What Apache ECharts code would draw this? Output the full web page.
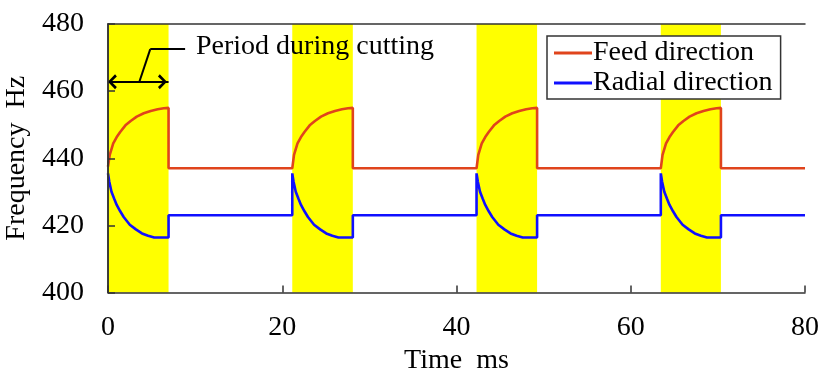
<!DOCTYPE html>
<html>
<head>
<meta charset="utf-8">
<script src="https://cdn.jsdelivr.net/npm/echarts@6/dist/echarts.min.js"></script>
<style>
  html, body { margin: 0; padding: 0; background: #fff; }
  #chart { width: 820px; height: 374px; }
</style>
</head>
<body>
<div id="chart"></div>
<script>
// cutting periods (ms), yellow bands
const bands = [[0, 6.95], [21.15, 28.1], [42.3, 49.25], [63.45, 70.35]];

// Feed direction (ms, Hz)
const feedData = [
  [0, 437.5], [0.2, 441], [0.6, 444.4], [1.0, 446.3], [1.4, 447.8], [2.0, 449.8], [2.6, 451.1],
  [3.3, 452.4], [4.1, 453.4], [4.9, 454.1], [5.7, 454.6], [6.4, 454.9], [6.95, 455], [6.95, 437],
  [21.15, 437], [21.15, 437.5], [21.35, 441], [21.75, 444.4], [22.15, 446.3], [22.55, 447.8],
  [23.15, 449.8], [23.75, 451.1], [24.45, 452.4], [25.25, 453.4], [26.05, 454.1], [26.85, 454.6],
  [27.55, 454.9], [28.1, 455], [28.1, 437],
  [42.3, 437], [42.3, 437.5], [42.5, 441], [42.9, 444.4], [43.3, 446.3], [43.7, 447.8],
  [44.3, 449.8], [44.9, 451.1], [45.6, 452.4], [46.4, 453.4], [47.2, 454.1], [48.0, 454.6],
  [48.7, 454.9], [49.25, 455], [49.25, 437],
  [63.45, 437], [63.45, 437.5], [63.65, 441], [64.05, 444.4], [64.45, 446.3], [64.85, 447.8],
  [65.45, 449.8], [66.05, 451.1], [66.75, 452.4], [67.55, 453.4], [68.35, 454.1], [69.15, 454.6],
  [69.85, 454.9], [70.35, 455], [70.35, 437],
  [80, 437]
];

// Radial direction (ms, Hz)
const radialData = [
  [0, 435.5], [0.15, 433], [0.4, 430], [0.7, 428], [1.0, 426.1], [1.4, 424.2], [1.8, 422.5],
  [2.5, 420.2], [3.2, 418.8], [3.9, 417.6], [4.6, 416.9], [5.3, 416.4], [6.95, 416.4], [6.95, 423],
  [21.15, 423], [21.15, 435.5], [21.3, 433], [21.55, 430], [21.85, 428], [22.15, 426.1],
  [22.55, 424.2], [22.95, 422.5], [23.65, 420.2], [24.35, 418.8], [25.05, 417.6], [25.75, 416.9],
  [26.45, 416.4], [28.1, 416.4], [28.1, 423],
  [42.3, 423], [42.3, 435.5], [42.45, 433], [42.7, 430], [43.0, 428], [43.3, 426.1],
  [43.7, 424.2], [44.1, 422.5], [44.8, 420.2], [45.5, 418.8], [46.2, 417.6], [46.9, 416.9],
  [47.6, 416.4], [49.25, 416.4], [49.25, 423],
  [63.45, 423], [63.45, 435.5], [63.6, 433], [63.85, 430], [64.15, 428], [64.45, 426.1],
  [64.85, 424.2], [65.25, 422.5], [65.95, 420.2], [66.65, 418.8], [67.35, 417.6], [68.05, 416.9],
  [68.75, 416.4], [70.35, 416.4], [70.35, 423],
  [80, 423]
];

// annotation: double arrow over first period and leader to the label
const arrowY = 462.8;
const leader = [[3.6, 462.8], [4.85, 472.5], [8.85, 472.5]];

const font = 'Liberation Serif';
const fs = 28;
const chevron = 'path://M5,0 L10,8 L8.5,10 L5,4 L1.5,10 L0,8 Z';

let myChart = echarts.init(document.getElementById('chart'));
myChart.setOption({
  animation: false,
  textStyle: { fontFamily: font, color: '#000' },
  title: {
    text: 'Period during cutting',
    left: 196,
    top: 33,
    padding: 0,
    textStyle: { fontFamily: font, fontSize: fs, fontWeight: 'normal', color: '#000' }
  },
  legend: {
    data: ['Feed direction', 'Radial direction'],
    orient: 'vertical',
    left: 547,
    top: 36,
    padding: [3, 8, 2, 7],
    itemGap: 2,
    itemWidth: 38,
    itemHeight: 3,
    icon: 'rect',
    borderColor: '#333',
    borderWidth: 1.5,
    backgroundColor: '#fff',
    textStyle: { fontFamily: font, fontSize: fs, lineHeight: 28, color: '#000', padding: [0, 0, 0, -4] }
  },
  grid: { left: 108, right: 15, top: 24, bottom: 81.5, outerBoundsMode: 'none' },
  xAxis: [{
    type: 'value',
    min: 0,
    max: 80,
    interval: 20,
    z: 5,
    name: 'Time  ms',
    nameLocation: 'middle',
    nameGap: 44,
    nameTextStyle: { fontFamily: font, fontSize: fs, color: '#000' },
    axisLine: { lineStyle: { color: '#333', width: 1.5 } },
    axisTick: { inside: true, length: 7, lineStyle: { color: '#333', width: 1.5 } },
    axisLabel: { fontFamily: font, fontSize: fs, color: '#000', margin: 21 },
    splitLine: { show: false }
  }, {
    type: 'value',
    min: 0,
    max: 80,
    position: 'top',
    z: 5,
    axisLine: { show: true, lineStyle: { color: '#333', width: 1.5 } },
    axisTick: { show: false },
    axisLabel: { show: false },
    splitLine: { show: false }
  }],
  yAxis: [{
    type: 'value',
    min: 400,
    max: 480,
    interval: 20,
    z: 5,
    name: 'Frequency  Hz',
    nameLocation: 'middle',
    nameGap: 70,
    nameTextStyle: { fontFamily: font, fontSize: fs, color: '#000' },
    axisLine: { show: true, lineStyle: { color: '#333', width: 1.5 } },
    axisTick: { inside: true, length: 7, lineStyle: { color: '#333', width: 1.5 } },
    axisLabel: { fontFamily: font, fontSize: fs, color: '#000', margin: 24 },
    splitLine: { show: false }
  }, {
    type: 'value',
    min: 400,
    max: 480,
    position: 'right',
    z: 5,
    axisLine: { show: true, lineStyle: { color: '#333', width: 1.5 } },
    axisTick: { show: false },
    axisLabel: { show: false },
    splitLine: { show: false }
  }],
  series: [
    {
      name: 'bands',
      type: 'line',
      data: [],
      z: 1,
      silent: true,
      markArea: {
        silent: true,
        itemStyle: { color: '#ffff00', opacity: 1 },
        data: bands.map(b => [{ xAxis: b[0] }, { xAxis: b[1] }])
      }
    },
    {
      name: 'Feed direction',
      type: 'line',
      data: feedData,
      symbol: 'none',
      z: 3,
      lineStyle: { color: '#e0441c', width: 2.6 },
      itemStyle: { color: '#e0441c' }
    },
    {
      name: 'Radial direction',
      type: 'line',
      data: radialData,
      symbol: 'none',
      z: 3,
      lineStyle: { color: '#1010ff', width: 2.6 },
      itemStyle: { color: '#1010ff' }
    },
    {
      name: 'annotation',
      type: 'line',
      data: [],
      z: 4,
      silent: true,
      markLine: {
        silent: true,
        animation: false,
        label: { show: false },
        lineStyle: { color: '#000', width: 2, type: 'solid' },
        symbol: 'none',
        data: [
          [
            { coord: [0.5, arrowY], symbol: chevron, symbolSize: [15, 9] },
            { coord: [6.25, arrowY], symbol: chevron, symbolSize: [15, 9] }
          ],
          [{ coord: [0, arrowY] }, { coord: [6.95, arrowY] }],
          [{ coord: leader[0] }, { coord: leader[1] }],
          [{ coord: leader[1] }, { coord: leader[2] }]
        ]
      }
    }
  ]
});
</script>
</body>
</html>
